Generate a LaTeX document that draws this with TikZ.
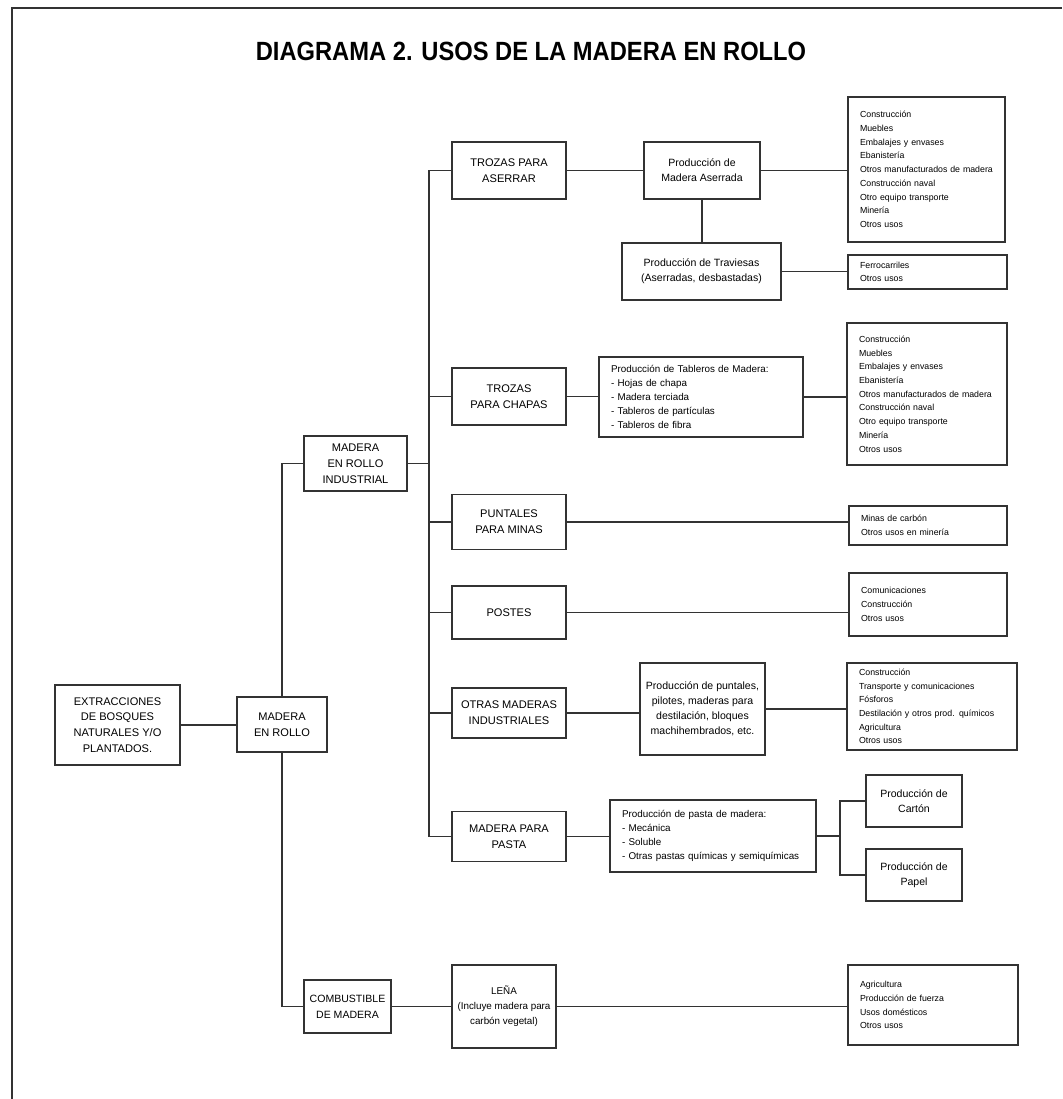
\documentclass[tikz,border=0pt]{standalone}
\usepackage{fontspec}
\setmainfont{Liberation Sans}
\usetikzlibrary{positioning}

\begin{document}
\begin{tikzpicture}[x=0.02cm,y=-0.02cm,
  caja/.style={draw=black!80,line width=1.1pt,align=center,inner sep=0pt,font=\fontsize{6.3}{9}\selectfont},
  prod/.style={caja,font=\fontsize{6}{8.6}\selectfont},
  lista/.style={caja,align=left,inner xsep=0.24cm,font=\fontsize{5}{7.8}\selectfont},
  tabla/.style={lista,font=\fontsize{5.6}{7.9}\selectfont},
  linea/.style={draw=black!80,line width=1.1pt}]
  \useasboundingbox (0,0) rectangle (1062,1099);
  \draw[linea] (12,1099) -- (12,8) -- (1062,8);
  \node[font=\bfseries\fontsize{15}{18}\selectfont] (titulo) at (531,51) {\scalebox{0.9}[1]{DIAGRAMA 2. USOS DE LA MADERA EN ROLLO}};

  \node[caja,minimum width=2.5cm,minimum height=1.6cm] (ext) at (117.5,725) {EXTRACCIONES\\DE BOSQUES\\NATURALES Y/O\\PLANTADOS.};
  \node[caja,minimum width=1.8cm,minimum height=1.1cm] (mer) at (282,724.5) {MADERA\\EN ROLLO};
  \node[caja,minimum width=2.06cm,minimum height=1.1cm] (mri) at (355.5,463.5) {MADERA\\EN ROLLO\\INDUSTRIAL};
  \node[caja,minimum width=1.74cm,minimum height=1.06cm,font=\fontsize{6}{9}\selectfont] (comb) at (347.5,1006.5) {COMBUSTIBLE\\DE MADERA};

  \node[caja,minimum width=2.28cm,minimum height=1.14cm] (tasr) at (509,170.5) {TROZAS PARA\\ASERRAR};
  \node[caja,minimum width=2.28cm,minimum height=1.14cm] (tch) at (509,396.5) {TROZAS\\PARA CHAPAS};
  \node[caja,minimum width=2.28cm,minimum height=1.1cm] (punt) at (509,522) {PUNTALES\\PARA MINAS};
  \node[caja,minimum width=2.28cm,minimum height=1.06cm] (postes) at (509,612.5) {POSTES};
  \node[caja,minimum width=2.28cm,minimum height=1cm] (otras) at (509,713) {OTRAS MADERAS\\INDUSTRIALES};
  \node[caja,minimum width=2.28cm,minimum height=1cm] (mpp) at (509,836.5) {MADERA PARA\\PASTA};

  \node[prod,minimum width=2.32cm,minimum height=1.14cm] (pma) at (702,170.5) {Producción de\\Madera Aserrada};
  \node[prod,minimum width=3.18cm,minimum height=1.14cm] (trav) at (701.5,271.5) {Producción de Traviesas\\(Aserradas, desbastadas)};
  \node[tabla,text width=3.6cm,minimum height=1.6cm] (tab) at (701,397) {Producción de Tableros de Madera:\\- Hojas de chapa\\- Madera terciada\\- Tableros de partículas\\- Tableros de fibra};
  \node[prod,minimum width=2.5cm,minimum height=1.84cm] (ppil) at (702.5,709) {Producción de puntales,\\pilotes, maderas para\\destilación, bloques\\machihembrados, etc.};
  \node[tabla,text width=3.64cm,minimum height=1.44cm] (ppas) at (713,836) {Producción de pasta de madera:\\- Mecánica\\- Soluble\\- Otras pastas químicas y semiquímicas};
  \node[prod,minimum width=1.92cm,minimum height=1.04cm] (carton) at (914,801) {Producción de\\Cartón};
  \node[prod,minimum width=1.92cm,minimum height=1.04cm] (papel) at (914,875) {Producción de\\Papel};
  \node[prod,minimum width=2.08cm,minimum height=1.66cm,font=\fontsize{5.6}{8.6}\selectfont] (lena) at (504,1006.5) {LEÑA\\(Incluye madera para\\carbón vegetal)};

  \node[lista,text width=2.66cm,minimum height=2.9cm] (lcons) at (926.5,169.5) {Construcción\\Muebles\\Embalajes y envases\\Ebanistería\\Otros manufacturados de madera\\Construcción naval\\Otro equipo transporte\\Minería\\Otros usos};
  \node[lista,text width=2.7cm,minimum height=0.68cm] (lfer) at (927.5,272) {Ferrocarriles\\Otros usos};
  \node[lista,text width=2.72cm,minimum height=2.84cm] (lcons2) at (927,394) {Construcción\\Muebles\\Embalajes y envases\\Ebanistería\\Otros manufacturados de madera\\Construcción naval\\Otro equipo transporte\\Minería\\Otros usos};
  \node[lista,text width=2.68cm,minimum height=0.78cm] (lmin) at (928,525.5) {Minas de carbón\\Otros usos en minería};
  \node[lista,text width=2.68cm,minimum height=1.26cm] (lcom) at (928,604.5) {Comunicaciones\\Construcción\\Otros usos};
  \node[lista,text width=2.92cm,minimum height=1.74cm] (lotr) at (932,706.5) {Construcción\\Transporte y comunicaciones\\Fósforos\\Destilación y otros prod. químicos\\Agricultura\\Otros usos};
  \node[lista,text width=2.92cm,minimum height=1.6cm] (lfue) at (933,1005) {Agricultura\\Producción de fuerza\\Usos domésticos\\Otros usos};

  \coordinate (tr) at (429,0);
  \coordinate (hor) at (840,0);
  \draw[linea] (ext.east) -- (ext.east -| mer.west);
  \draw[linea] (mri.west) -| (mer.north);
  \draw[linea] (comb.west) -| (mer.south);
  \draw[linea] (mri.east) -- (mri.east -| tr);
  \draw[linea] (tasr.west) -| (tr |- mpp.west) -- (mpp.west);
  \foreach \n in {tch,punt,postes,otras}
    \draw[linea] (\n.west) -- (\n.west -| tr);
  \draw[linea] (tasr.east) -- (tasr.east -| pma.west);
  \draw[linea] (pma.south) -- (pma.south |- trav.north);
  \draw[linea] (pma.east) -- (pma.east -| lcons.west);
  \draw[linea] (trav.east) -- (trav.east -| lfer.west);
  \draw[linea] (tch.east) -- (tch.east -| tab.west);
  \draw[linea] (tab.east) -- (tab.east -| lcons2.west);
  \draw[linea] (punt.east) -- (punt.east -| lmin.west);
  \draw[linea] (postes.east) -- (postes.east -| lcom.west);
  \draw[linea] (otras.east) -- (otras.east -| ppil.west);
  \draw[linea] (ppil.east) -- (ppil.east -| lotr.west);
  \draw[linea] (mpp.east) -- (mpp.east -| ppas.west);
  \draw[linea] (ppas.east) -- (ppas.east -| hor);
  \draw[linea] (carton.west) -| (hor |- papel.west) -- (papel.west);
  \draw[linea] (comb.east) -- (comb.east -| lena.west);
  \draw[linea] (lena.east) -- (lena.east -| lfue.west);
\end{tikzpicture}
\end{document}
